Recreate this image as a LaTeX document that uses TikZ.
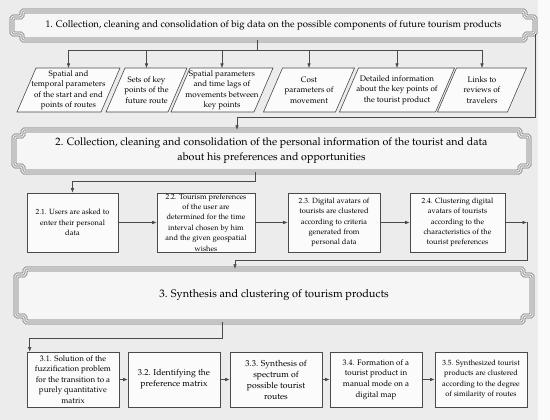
\documentclass[tikz,border=0pt]{standalone}
\usepackage[T1]{fontenc}
\usepackage{mathpazo}
\usetikzlibrary{arrows.meta}
\definecolor{linegray}{HTML}{4A4A4A}
\definecolor{rollgray}{HTML}{6A6A6A}
\definecolor{pagebg}{HTML}{ECECEC}
\definecolor{boxfill}{HTML}{FBFBFB}
\definecolor{bannerfill}{HTML}{F6F6F6}

\tikzset{
  stepbox/.style={draw=linegray, fill=boxfill, line width=0.6pt, align=center, inner sep=0pt},
  paratext/.style={align=center, inner sep=0pt, font=\fontsize{8}{10.5}\selectfont},
  parabox/.style={draw=linegray, fill=boxfill, line width=0.6pt},
  bannertext/.style={align=center, inner sep=0pt},
  tripleline/.style={preaction={fill=bannerfill}, preaction={draw=rollgray, line width=4.6pt},
    preaction={draw=bannerfill, line width=3.4pt}, draw=rollgray, line width=0.55pt, rounded corners=1.5pt},
  conn/.style={draw=linegray, line width=0.6pt},
}

% Schriftrolle: links oben rechts unten, Kappe, Ueberstand
\newcommand\banner[6]{\draw[tripleline] (#1,#2) -- (#3,#2) -- (#3,#2+#5) -- (#3+#6,#2+#5) -- (#3+#6,#4-#5) -- (#3,#4-#5) -- (#3,#4) -- (#1,#4) -- (#1,#4-#5) -- (#1-#6,#4-#5) -- (#1-#6,#2+#5) -- (#1,#2+#5) -- cycle;}

\begin{document}
\begin{tikzpicture}[x=1pt,y=-1pt,>={Latex[length=4.5pt,width=3.6pt]}]
\useasboundingbox (0,0) rectangle (550,420);
%Hintergrund
\fill[pagebg] (0,0) rectangle (550,420);
\fill[gray!4] (538,0) rectangle (550,420);

%Stufe 1: Schriftrolle und Parallelogramme
\banner{22}{11}{525}{40}{6}{10}
\node[bannertext, minimum width=503pt, minimum height=29pt, font=\fontsize{9.6}{11}\selectfont] (b1) at (273.5,25.5)
  {1. Collection, cleaning and consolidation of big data on the possible components of future tourism products};

\foreach \cx/\w in {68.5/84, 146.5/62, 222/83, 309/72, 397/96, 482/70}
  \draw[parabox] (\cx-\w/2-9.5,112) -- (\cx-\w/2+9.5,68) -- (\cx+\w/2+9.5,68) -- (\cx+\w/2-9.5,112) -- cycle;
\node[paratext] (p1) at (68.5,90) {Spatial and\\temporal parameters\\of the start and end\\points of routes};
\node[paratext] (p2) at (146.5,90) {Sets of key\\points of the\\future route};
\node[paratext] (p3) at (222,90) {Spatial parameters\\and time lags of\\movements between\\key points};
\node[paratext] (p4) at (309,90) {Cost\\parameters of\\movement};
\node[paratext] (p5) at (397,90) {Detailed information\\about the key points of\\the tourist product};
\node[paratext] (p6) at (482,90) {Links to\\reviews of\\travelers};

\coordinate (bus) at (0,50);
\coordinate (ptop) at (0,68);
\draw[conn] ([xshift=-16.5pt]b1.south) -- ([xshift=-16.5pt]b1.south |- bus);
\draw[conn] (p1 |- bus) -- (p6 |- bus);
\foreach \i in {1,...,6}
  \draw[conn,->] (p\i |- bus) -- (p\i |- ptop);

%Stufe 2
\banner{23}{130}{520}{172}{6}{9}
\node[bannertext, minimum width=497pt, minimum height=42pt, font=\fontsize{10.7}{15}\selectfont] (b2) at (271.5,151)
  {2. Collection, cleaning and consolidation of the personal information of the tourist and data\\about his preferences and opportunities};

\coordinate (k12) at (237,117);
\draw[conn,->] ([xshift=10pt,yshift=6pt]b1.south east) |- (k12) -- (k12 |- b2.north);

\begin{scope}[font=\fontsize{7.5}{10.4}\selectfont]
\node[stepbox, minimum width=91pt, minimum height=59pt] (s21) at (72.5,222.5) {2.1. Users are asked to\\enter their personal\\data};
\node[stepbox, minimum width=98pt, minimum height=59pt] (s22) at (206,222.5) {2.2. Tourism preferences\\of the user are\\determined for the time\\interval chosen by him\\and the given geospatial\\wishes};
\node[stepbox, minimum width=92pt, minimum height=59pt] (s23) at (334,222.5) {2.3. Digital avatars of\\tourists are clustered\\according to criteria\\generated from\\personal data};
\node[stepbox, minimum width=95pt, minimum height=59pt] (s24) at (457.5,222.5) {2.4. Clustering digital\\avatars of tourists\\according to the\\characteristics of the\\tourist preferences};
\end{scope}

\coordinate (k2) at (0,181);
\draw[conn,->] ([xshift=-16.5pt]b2.south) |- (s21.north |- k2) -- (s21.north);
\draw[conn,->] (s21) -- (s22);
\draw[conn,->] (s22) -- (s23);
\draw[conn,->] (s23) -- (s24);

%Stufe 3
\banner{25}{269}{523}{322}{6}{9}
\node[bannertext, minimum width=498pt, minimum height=53pt, font=\fontsize{11}{13}\selectfont] (b3) at (274,295.5)
  {3. Synthesis and clustering of tourism products};

\coordinate (k3) at (527,260);
\draw[conn,->] (s24.east) -- (s24.east -| k3);
\draw[conn,->] (s24.east -| k3) -- (k3) -| ([xshift=-39pt]b3.north);

\node[stepbox, minimum width=92pt, minimum height=55pt, font=\fontsize{8}{10.4}\selectfont] (s31) at (73,379.5) {3.1. Solution of the\\fuzzification problem\\for the transition to a\\purely quantitative\\matrix};
\node[stepbox, minimum width=92pt, minimum height=55pt, font=\fontsize{8.6}{11}\selectfont] (s32) at (174,379.5) {3.2. Identifying the\\preference matrix};
\node[stepbox, minimum width=92pt, minimum height=55pt, font=\fontsize{8.6}{11}\selectfont] (s33) at (276,379.5) {3.3. Synthesis of\\spectrum of\\possible tourist\\routes};
\node[stepbox, minimum width=92pt, minimum height=55pt, font=\fontsize{8}{10.6}\selectfont] (s34) at (376,379.5) {3.4. Formation of a\\tourist product in\\manual mode on a\\digital map};
\node[stepbox, minimum width=92pt, minimum height=55pt, font=\fontsize{7.5}{10.4}\selectfont] (s35) at (481,379.5) {3.5. Synthesized tourist\\products are clustered\\according to the degree\\of similarity of routes};

\coordinate (k4) at (0,338);
\coordinate (e31) at ([xshift=3pt]s31.north west);
\draw[conn,->] ([xshift=-52pt]b3.south) |- (e31 |- k4) -- (e31);
\draw[conn,->] (s31) -- (s32);
\draw[conn,->] (s32) -- (s33);
\draw[conn,->] (s33) -- (s34);
\draw[conn,->] (s34) -- (s35);

\end{tikzpicture}
\end{document}
